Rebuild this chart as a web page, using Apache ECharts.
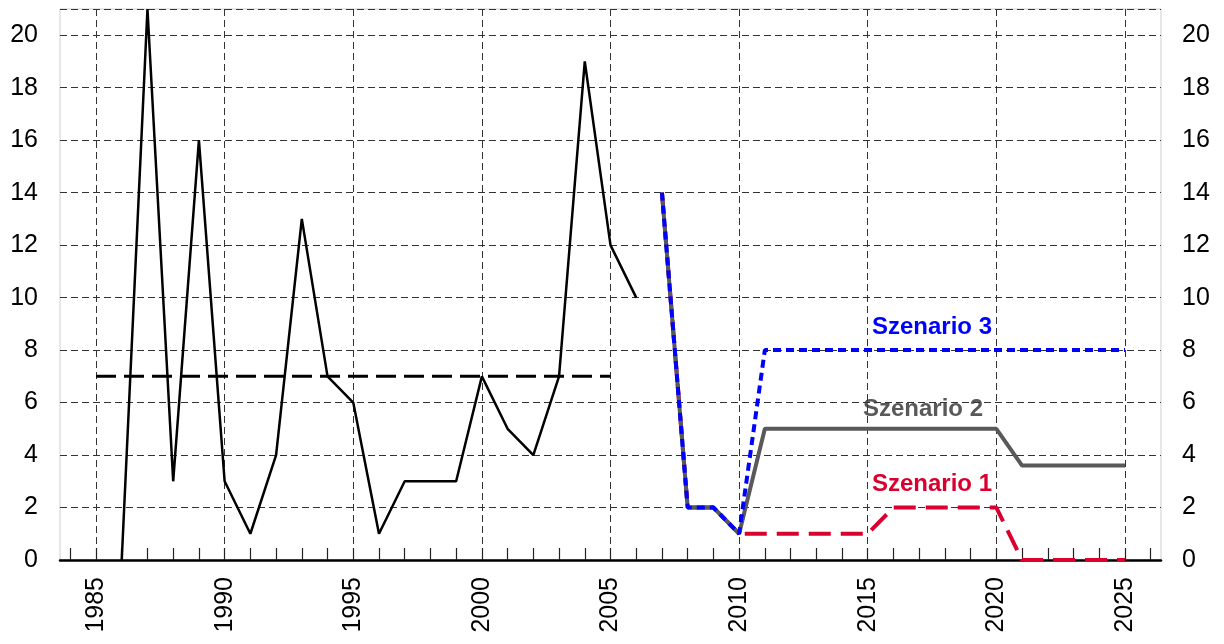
<!DOCTYPE html>
<html>
<head>
<meta charset="utf-8">
<script src="https://cdn.jsdelivr.net/npm/echarts@6/dist/echarts.min.js"></script>
<style>
  html, body { margin: 0; padding: 0; background: #fff; }
  #chart { width: 1224px; height: 644px; }
</style>
</head>
<body>
<div id="chart"></div>
<script>
// Jahreswerte (historisch)
const histYears = [1986, 1987, 1988, 1989, 1990, 1991, 1992, 1993, 1994, 1995, 1996, 1997, 1998, 1999, 2000, 2001, 2002, 2003, 2004, 2005, 2006]
const histValues = [0, 21, 3, 16, 3, 1, 4, 13, 7, 6, 1, 3, 3, 3, 7, 5, 4, 7, 19, 12, 10]
// Mittelwert
const meanYears = [1985, 2005]
const meanValues = [7, 7]
// Szenarien ab 2007
const scenYears = [2007, 2008, 2009, 2010, 2011, 2012, 2013, 2014, 2015, 2016, 2017, 2018, 2019, 2020, 2021, 2022, 2023, 2024, 2025]
const scen1 = [14, 2, 2, 1, 1, 1, 1, 1, 1, 2, 2, 2, 2, 2, 0, 0, 0, 0, 0]
const scen2 = [14, 2, 2, 1, 5, 5, 5, 5, 5, 5, 5, 5, 5, 5, 3.6, 3.6, 3.6, 3.6, 3.6]
const scen3 = [14, 2, 2, 1, 8, 8, 8, 8, 8, 8, 8, 8, 8, 8, 8, 8, 8, 8, 8]
// Achsen
const labelYears = [1985, 1990, 1995, 2000, 2005, 2010, 2015, 2020, 2025]
const tickYears = []
for (let y = 1984; y <= 2026; y++) tickYears.push(y)

const pairs = (xs, ys) => xs.map((x, i) => [x, ys[i]])

const font = 'Liberation Sans, Arial, sans-serif'
const gridDash = { color: '#333', width: 1, type: [7, 4] }

let chart = echarts.init(document.getElementById('chart'))
let option = {
  animation: false,
  grid: {
    left: 60, right: 63, top: 9, bottom: 84,
    show: true, borderColor: '#cfcfcf', borderWidth: 1
  },
  xAxis: [
    {
      type: 'value', min: 1983.6, max: 2026.4, position: 'bottom',
      axisLine: { show: true, onZero: false, lineStyle: { color: '#000', width: 2.5 } },
      axisTick: { show: true, inside: true, length: 12, customValues: tickYears, lineStyle: { color: '#222', width: 1.2 } },
      axisLabel: { customValues: labelYears, rotate: 90, margin: 17, fontSize: 25, color: '#000', fontFamily: font, formatter: v => String(v) },
      splitLine: { show: false }
    },
    {
      type: 'value', min: 1983.6, max: 2026.4, position: 'bottom',
      axisLine: { show: false },
      axisTick: { show: false, customValues: labelYears },
      axisLabel: { show: false },
      splitLine: { show: true, lineStyle: gridDash }
    }
  ],
  yAxis: [
    {
      type: 'value', min: 0, max: 21, interval: 2, position: 'left',
      axisLine: { show: false }, axisTick: { show: false },
      axisLabel: { margin: 22, fontSize: 25, color: '#000', fontFamily: font, showMaxLabel: false },
      splitLine: { show: true, lineStyle: gridDash }
    },
    {
      type: 'value', min: 0, max: 21, interval: 2, position: 'right',
      axisLine: { show: false }, axisTick: { show: false },
      axisLabel: { margin: 21, fontSize: 25, color: '#000', fontFamily: font, showMaxLabel: false },
      splitLine: { show: false }
    }
  ],
  series: [
    {
      name: 'Historisch', type: 'line', data: pairs(histYears, histValues),
      symbol: 'none', lineStyle: { color: '#000', width: 2.5 }, z: 5
    },
    {
      name: 'Mittel', type: 'line', data: pairs(meanYears, meanValues),
      symbol: 'none', lineStyle: { color: '#000', width: 3, type: [20, 8] }, z: 4
    },
    {
      name: 'Szenario 1', type: 'line', data: pairs(scenYears, scen1),
      symbol: 'none', lineStyle: { color: '#d9002f', width: 4, type: [22, 10] }, z: 6
    },
    {
      name: 'Szenario 2', type: 'line', data: pairs(scenYears, scen2),
      symbol: 'none', lineStyle: { color: '#595959', width: 4 }, z: 7
    },
    {
      name: 'Szenario 3', type: 'line', data: pairs(scenYears, scen3),
      symbol: 'none', lineStyle: { color: '#0000ff', width: 4, type: [8, 5] }, z: 8
    }
  ],
  graphic: [
    { type: 'text', left: 872, top: 315, style: { text: 'Szenario 3', fill: '#0000ff', font: 'bold 24px ' + font } },
    { type: 'text', left: 863, top: 397, style: { text: 'Szenario 2', fill: '#595959', font: 'bold 24px ' + font } },
    { type: 'text', left: 872, top: 472, style: { text: 'Szenario 1', fill: '#d9002f', font: 'bold 24px ' + font } }
  ]
}
chart.setOption(option)
</script>
</body>
</html>
